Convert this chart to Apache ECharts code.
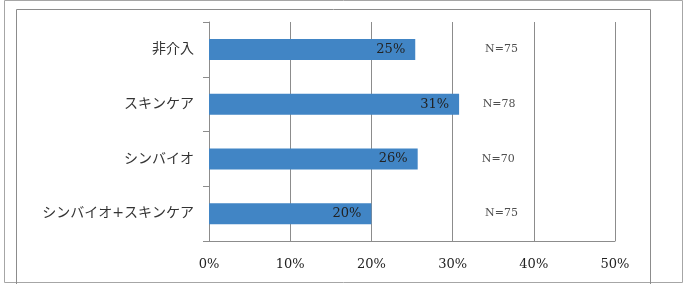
<!DOCTYPE html>
<html>
<head>
<meta charset="utf-8">
<script src="https://cdn.jsdelivr.net/npm/echarts@6/dist/echarts.min.js"></script>
<style>
  html, body { margin: 0; padding: 0; background: #fff; }
  #chart { width: 686px; height: 284px; }
</style>
</head>
<body>
<div id="chart"></div>
<script>
const categories = ['非介入', 'スキンケア', 'シンバイオ', 'シンバイオ+スキンケア'];
const rates = [25.4, 30.8, 25.7, 20.0];
const nCounts = [75, 78, 70, 75];
const nLabelX = [34.0, 33.7, 33.6, 34.0];

const serif = "'DejaVu Serif', 'Liberation Serif', 'Noto Sans CJK JP', serif";

const chart = echarts.init(document.getElementById('chart'));
chart.setOption({
  animation: false,
  graphic: [
    { type: 'rect', shape: { x: 4.5, y: 0.5, width: 678, height: 282 },
      style: { fill: 'none', stroke: '#a6a6a6', lineWidth: 1 } },
    { type: 'rect', shape: { x: 16.5, y: 9.5, width: 634, height: 290 },
      style: { fill: 'none', stroke: '#8c8c8c', lineWidth: 1 } }
  ],
  grid: { left: 209, right: 71, top: 22, bottom: 43 },
  xAxis: {
    type: 'value',
    min: 0,
    max: 50,
    interval: 10,
    axisLine: { show: true, lineStyle: { color: '#8c8c8c' } },
    axisTick: { show: false },
    splitLine: { show: true, lineStyle: { color: '#8c8c8c', width: 1 } },
    axisLabel: { formatter: '{value}%', color: '#222', fontFamily: serif, fontSize: 13, margin: 17 }
  },
  yAxis: {
    type: 'category',
    data: categories,
    inverse: true,
    axisLine: { show: true, lineStyle: { color: '#8c8c8c' } },
    axisTick: { show: true, length: 6, lineStyle: { color: '#8c8c8c' } },
    axisLabel: { color: '#333', fontFamily: serif, fontSize: 14, margin: 15 }
  },
  series: [
    {
      type: 'bar',
      data: rates,
      barWidth: 21,
      itemStyle: { color: '#4185c5' },
      label: {
        show: true,
        position: 'insideRight',
        distance: 10,
        color: '#222',
        fontFamily: serif,
        fontSize: 13,
        formatter: p => Math.round(p.value) + '%'
      }
    },
    {
      type: 'scatter',
      data: nLabelX.map((x, i) => [x, i]),
      symbolSize: 0,
      label: {
        show: true,
        position: 'right',
        distance: 0,
        color: '#222',
        fontFamily: serif,
        fontSize: 11,
        formatter: p => 'N=' + nCounts[p.dataIndex]
      }
    }
  ]
});
</script>
</body>
</html>
